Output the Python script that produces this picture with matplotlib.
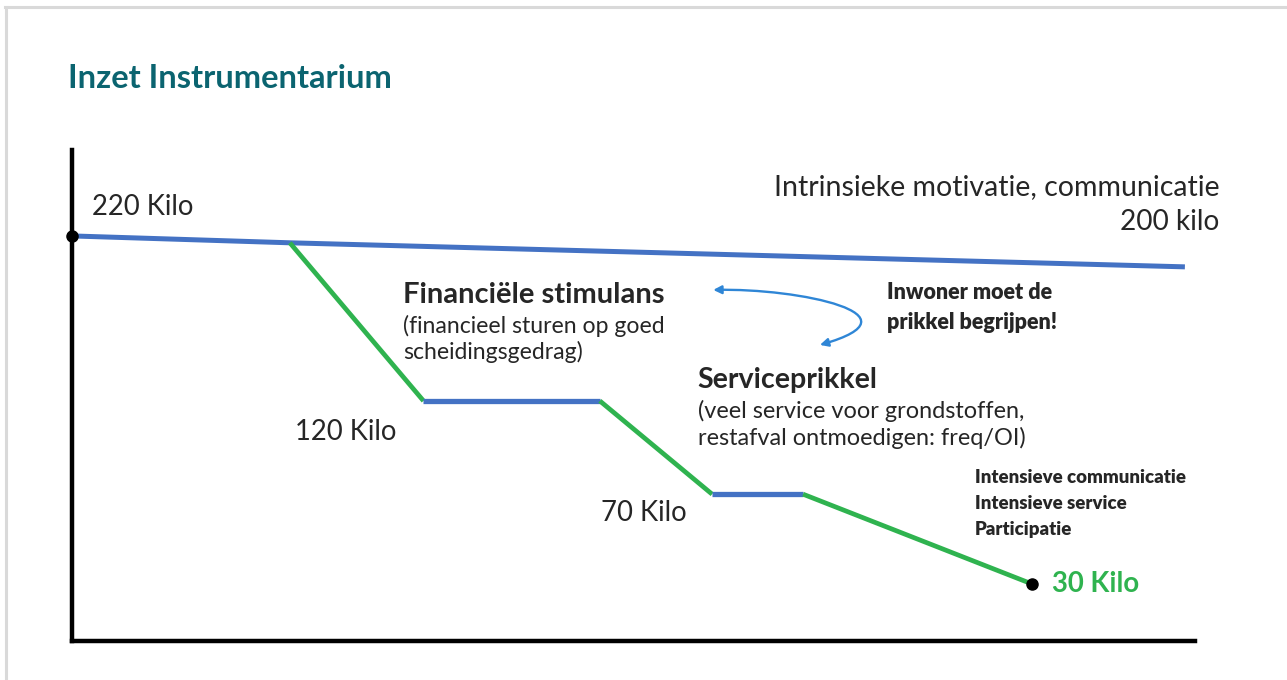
import matplotlib
matplotlib.use('Agg')
import matplotlib.pyplot as plt
from matplotlib.lines import Line2D
from matplotlib.patches import FancyArrowPatch
from matplotlib.path import Path

plt.rcParams['font.family'] = ['Lato', 'DejaVu Sans']

# schematic path of residual waste (kg per inhabitant), axis units 0..100
base_x = [0.0, 19.4, 99.1]
base_y = [82.5, 81.1, 76.2]
step_x = [19.4, 31.3, 47.0, 57.0, 65.1, 85.5]
step_y = [81.1, 48.9, 48.9, 29.9, 29.9, 11.6]
# segment kinds along the step path: 'g' = drop (green), 'b' = plateau (blue)
step_kind = ['g', 'b', 'g', 'b', 'g']

level_labels = ['220 Kilo', '120 Kilo', '70 Kilo']
level_pos = [(1.8, 88.4), (19.9, 42.6), (47.1, 26.1)]

blue = '#4472c4'
green = '#2fb34f'
text_c = '#262626'

fig = plt.figure(figsize=(12.87, 6.8), dpi=100)

# light grey frame (top and left)
fig.add_artist(Line2D([5 / 1287, 1], [1 - 7 / 680, 1 - 7 / 680],
                      color='#d9d9d9', lw=2.2, transform=fig.transFigure))
fig.add_artist(Line2D([6 / 1287, 6 / 1287], [0, 1 - 7 / 680],
                      color='#d9d9d9', lw=2.2, transform=fig.transFigure))

fig.text(68 / 1287, 1 - 78 / 680, 'Inzet Instrumentarium', color='#0b6470',
         fontsize=23.5, fontweight='bold', va='center', ha='left')

ax = fig.add_axes([72 / 1287, 1 - 641 / 680, 1123 / 1287, 491 / 680])
ax.set_xlim(0, 100)
ax.set_ylim(0, 100)
ax.set_xticks([])
ax.set_yticks([])
for s in ['top', 'right']:
    ax.spines[s].set_visible(False)
for s in ['left', 'bottom']:
    ax.spines[s].set_linewidth(3.2)
    ax.spines[s].set_color('black')
    ax.spines[s].set_capstyle('projecting')

ax.plot(base_x, base_y, color=blue, lw=3.6, solid_capstyle='butt', zorder=3)
for i, k in enumerate(step_kind):
    ax.plot(step_x[i:i + 2], step_y[i:i + 2], color=green if k == 'g' else blue,
            lw=3.4 if k == 'g' else 3.8, solid_capstyle='butt', zorder=3)

ax.plot([base_x[0], step_x[-1]], [base_y[0], step_y[-1]], 'o', ls='none',
        color='black', ms=8, zorder=5, clip_on=False)

for lab, (x, y) in zip(level_labels, level_pos):
    ax.text(x, y, lab, fontsize=19.8, color=text_c, va='center', ha='left')

ax.text(102.2, 92.5, 'Intrinsieke motivatie, communicatie', fontsize=20.5,
        color=text_c, va='center', ha='right')
ax.text(102.2, 85.3, '200 kilo', fontsize=20.2, color=text_c, va='center', ha='right')

ax.text(29.5, 70.5, 'Financiële stimulans', fontsize=21, fontweight='bold',
        color=text_c, va='center', ha='left')
ax.text(29.5, 64.2, '(financieel sturen op goed', fontsize=16.6,
        color=text_c, va='center', ha='left')
ax.text(29.5, 58.9, 'scheidingsgedrag)', fontsize=16.6,
        color=text_c, va='center', ha='left')

ax.text(55.7, 53.2, 'Serviceprikkel', fontsize=20.6, fontweight='bold',
        color=text_c, va='center', ha='left')
ax.text(55.7, 46.8, '(veel service voor grondstoffen,', fontsize=16.9,
        color=text_c, va='center', ha='left')
ax.text(55.7, 41.3, 'restafval ontmoedigen: freq/OI)', fontsize=16.9,
        color=text_c, va='center', ha='left')

ax.text(72.6, 70.9, 'Inwoner moet de', fontsize=15.5, fontweight='heavy',
        color=text_c, va='center', ha='left')
ax.text(72.6, 64.8, 'prikkel begrijpen!', fontsize=15.5, fontweight='heavy',
        color=text_c, va='center', ha='left')

for y, lab in zip([33.2, 28.1, 22.8],
                  ['Intensieve communicatie', 'Intensieve service', 'Participatie']):
    ax.text(80.4, y, lab, fontsize=13.4, fontweight='heavy', color=text_c,
            va='center', ha='left')

ax.text(87.3, 11.6, '30 Kilo', fontsize=19.8, fontweight='bold', color=green,
        va='center', ha='left')

# curved double-headed arrow
arc = Path([(57.1, 71.5), (64.8, 71.9), (76.0, 66.4), (66.6, 60.3)],
           [Path.MOVETO, Path.CURVE4, Path.CURVE4, Path.CURVE4])
ax.add_patch(FancyArrowPatch(path=arc, arrowstyle='<|-|>', mutation_scale=12,
                             color='#2f86d6', lw=1.7, zorder=4))

fig.savefig('out.png', dpi=100)
